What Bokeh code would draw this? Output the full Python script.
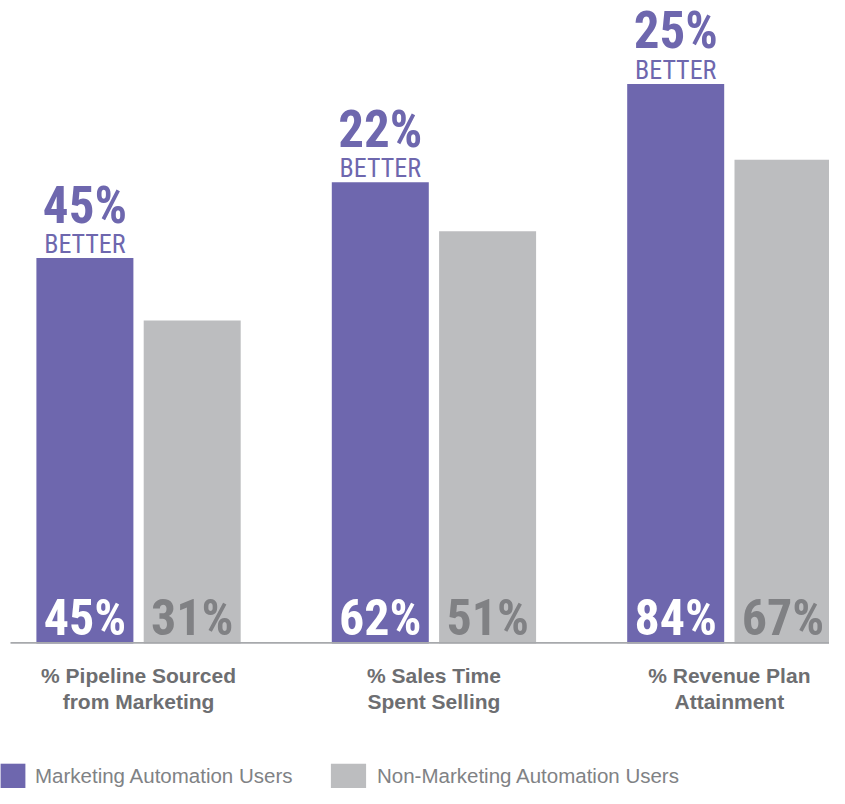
from bokeh.plotting import figure
from bokeh.models import ColumnDataSource, FactorRange, Range1d, Legend, LegendItem, BoxAnnotation
from bokeh.core.properties import value
from bokeh.transform import dodge
from bokeh.embed import file_html
from bokeh.resources import INLINE

# ---- data ----
categories = ["% Pipeline Sourced\nfrom Marketing",
              "% Sales Time\nSpent Selling",
              "% Revenue Plan\nAttainment"]
series = ["Marketing Automation Users", "Non-Marketing Automation Users"]
ma_values = [45, 62, 84]
non_ma_values = [31, 51, 67]
better_pct = ["45%", "22%", "25%"]
better_word = ["BETTER", "BETTER", "BETTER"]

# ---- style ----
PURPLE = "#6e67ae"
GREY = "#bcbdbf"
GREY_TXT = "#808184"
LABEL_TXT = "#6d6e71"
LEGEND_TXT = "#808285"
NUM_FONT = "Roboto Condensed"
LBL_FONT = "Liberation Sans"
BASE = -41.3     # value at the chart's baseline
SHIFT = 0.1766   # horizontal shift of the whole bar layout (factor units)

ma_x = [(c, "MA") for c in categories]
non_x = [(c, "NON") for c in categories]

src_ma = ColumnDataSource(dict(x=ma_x, top=ma_values,
                               lbl=[f"{v}%" for v in ma_values],
                               pct=better_pct, word=better_word))
src_non = ColumnDataSource(dict(x=non_x, top=non_ma_values,
                                lbl=[f"{v}%" for v in non_ma_values]))
src_cat = ColumnDataSource(dict(x=categories, name=categories))

factors = [(c, s) for c in categories for s in ("MA", "NON")]
x_range = FactorRange(*factors, range_padding=0.11, range_padding_units="absolute",
                      factor_padding=0, group_padding=0.753)

p = figure(width=829, height=788, x_range=x_range, y_range=Range1d(-73.77, 102.68),
           output_backend="svg", toolbar_location=None,
           x_axis_location=None, y_axis_location=None,
           min_border_left=0, min_border_right=0, min_border_top=0, min_border_bottom=0)
p.outline_line_color = None
p.grid.visible = False
p.background_fill_color = "white"
p.border_fill_color = "white"

X = dodge("x", SHIFT, range=x_range)

r_ma = p.vbar(x=X, top="top", bottom=BASE, width=0.904, source=src_ma,
              fill_color=PURPLE, line_color=None)
r_non = p.vbar(x=X, top="top", bottom=BASE, width=0.904, source=src_non,
               fill_color=GREY, line_color=None)

# baseline
p.add_layout(BoxAnnotation(left=10, right=829, top=641.5, bottom=643.2,
                           left_units="canvas", right_units="canvas",
                           top_units="canvas", bottom_units="canvas",
                           fill_color="#a7a9ac", fill_alpha=1, line_color=None))

# numbers inside bars
p.text(x=X, y=BASE, text="lbl", source=src_ma, text_align="center",
       text_baseline="alphabetic", y_offset=-25, text_color="white",
       text_font=value(NUM_FONT), text_font_style="bold", text_font_size="50px")
p.text(x=X, y=BASE, text="lbl", source=src_non, text_align="center",
       text_baseline="alphabetic", y_offset=-25, text_color=GREY_TXT,
       text_font=value(NUM_FONT), text_font_style="bold", text_font_size="50px")

# "xx% BETTER" above purple bars
p.text(x=X, y="top", text="pct", source=src_ma, text_align="center",
       text_baseline="alphabetic", y_offset=-53, text_color=PURPLE,
       text_font=value(NUM_FONT), text_font_style="bold", text_font_size="51px")
p.text(x=X, y="top", text="word", source=src_ma, text_align="center",
       text_baseline="alphabetic", y_offset=-14, text_color=PURPLE,
       text_font=value(NUM_FONT), text_font_size="26px")

# category labels
p.text(x=X, y=BASE, text="name", source=src_cat, text_align="center",
       text_baseline="top", y_offset=21, text_color=LABEL_TXT,
       text_font=value(LBL_FONT), text_font_style="bold", text_font_size="21px",
       text_line_height=1.09)

# legends
for items, loc, gw, standoff in (
        ([LegendItem(label=series[0], renderers=[r_ma])], (-3, -4), 31, 7),
        ([LegendItem(label=series[1], renderers=[r_non])], (326, -4), 44, 7)):
    lg = Legend(items=items, location=loc, orientation="horizontal",
                glyph_width=gw, glyph_height=32, label_standoff=standoff,
                padding=0, margin=0, spacing=0, border_line_color=None,
                background_fill_alpha=0, label_text_color=LEGEND_TXT,
                label_text_font=LBL_FONT, label_text_font_size="20.5px",
                label_height=32)
    p.add_layout(lg)

open("out.html", "w").write(file_html(p, INLINE))
